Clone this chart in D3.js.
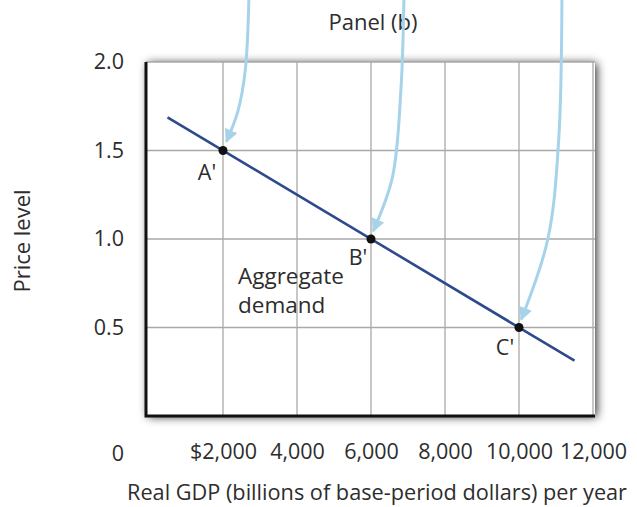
<!DOCTYPE html>
<html>
<head>
<meta charset="utf-8">
<script src="https://cdn.jsdelivr.net/npm/d3@7"></script>
<style>
  body { margin: 0; background: #fff; }
  text { font-family: "Open Sans", "Noto Sans", sans-serif; fill: #2d2d2d; }
</style>
</head>
<body>
<div id="chart"></div>
<script>
// data
var xTicks = [2000, 4000, 6000, 8000, 10000, 12000];
var xTickLabels = ["$2,000", "4,000", "6,000", "8,000", "10,000", "12,000"];
var yTicks = [0.5, 1.0, 1.5, 2.0];
var yTickLabels = ["0.5", "1.0", "1.5", "2.0"];
var adLine = [[500, 1.6875], [11500, 0.3125]];
var pointNames = ["A'", "B'", "C'"];
var pointX = [2000, 6000, 10000];
var pointY = [1.5, 1.0, 0.5];
// arrows coming down from panel (a), in data units
var arrows = [
  [[2700, 2.36], [2600, 1.95], [2400, 1.72], [2090, 1.55]],
  [[6890, 2.36], [6810, 1.85], [6580, 1.35], [6060, 1.045]],
  [[11160, 2.36], [11070, 1.55], [10780, 1.0], [10060, 0.545]]
];

var w = 637, h = 507;
var x0 = 149, x1 = 593, y0 = 416, y1 = 62;
var fs = "21.5px";

var svg = d3.select("#chart").append("svg")
  .attr("width", w).attr("height", h);

var defs = svg.append("defs");
var f = defs.append("filter").attr("id", "shadow")
  .attr("x", "-10%").attr("y", "-10%").attr("width", "120%").attr("height", "120%");
f.append("feDropShadow").attr("dx", 2).attr("dy", 1)
  .attr("stdDeviation", 5).attr("flood-color", "#000").attr("flood-opacity", 0.8);

defs.append("marker").attr("id", "head")
  .attr("viewBox", "0 0 10 10").attr("refX", 9).attr("refY", 5)
  .attr("markerWidth", 4.5).attr("markerHeight", 4.5)
  .attr("markerUnits", "strokeWidth").attr("orient", "auto")
  .append("path").attr("d", "M0,0 L10,5 L0,10 Z").attr("fill", "#a7d3ea");

var xScale = d3.scaleLinear().domain([0, 12000]).range([x0, x1]);
var yScale = d3.scaleLinear().domain([0, 2]).range([y0, y1]);

// panel background
svg.append("rect")
  .attr("x", x0 - 3).attr("y", y1).attr("width", x1 - x0 + 5).attr("height", y0 - y1)
  .attr("fill", "#fff").attr("filter", "url(#shadow)");

// grid
var grid = svg.append("g");
grid.selectAll(".gx").data(xTicks).enter().append("line")
  .attr("x1", d => xScale(d)).attr("x2", d => xScale(d))
  .attr("y1", y0).attr("y2", y1)
  .attr("stroke", "#a9a9a9").attr("stroke-width", 1.3);
grid.selectAll(".gy").data(yTicks).enter().append("line")
  .attr("x1", x0 - 3).attr("x2", x1 + 2)
  .attr("y1", d => yScale(d)).attr("y2", d => yScale(d))
  .attr("stroke", "#a9a9a9").attr("stroke-width", 1.3);

// axes (black L)
svg.append("path")
  .attr("d", "M" + (x0 - 3) + "," + y1 + "V" + y0 + "H" + (x1 + 2))
  .attr("fill", "none").attr("stroke", "#111").attr("stroke-width", 3);

// tick labels
var xAxis = d3.axisBottom(xScale).tickValues(xTicks).tickSize(0)
  .tickFormat((d, i) => xTickLabels[i]);
var xg = svg.append("g").attr("transform", "translate(0," + y0 + ")").call(xAxis);
xg.select(".domain").remove();
xg.selectAll("text").attr("y", 36).attr("dy", "0.32em")
  .style("font-size", fs).attr("fill", "#2d2d2d");

var yAxis = d3.axisLeft(yScale).tickValues(yTicks).tickSize(0)
  .tickFormat((d, i) => yTickLabels[i]);
var yg = svg.append("g").attr("transform", "translate(" + x0 + ",0)").call(yAxis);
yg.select(".domain").remove();
yg.selectAll("text").attr("x", -25)
  .style("font-size", fs).attr("fill", "#2d2d2d");

svg.append("text").attr("x", 118).attr("y", 453).attr("dy", "0.35em")
  .attr("text-anchor", "middle").style("font-size", fs).text("0");

// axis titles
svg.append("text").attr("x", 377).attr("y", 493).attr("dy", "0.35em")
  .attr("text-anchor", "middle").style("font-size", "21px")
  .attr("textLength", 500).attr("lengthAdjust", "spacingAndGlyphs")
  .text("Real GDP (billions of base-period dollars) per year");
svg.append("text").attr("transform", "translate(22,241) rotate(-90)")
  .attr("dy", "0.35em").attr("text-anchor", "middle").style("font-size", "22px")
  .text("Price level");
svg.append("text").attr("x", 373).attr("y", 22).attr("dy", "0.35em")
  .attr("text-anchor", "middle").style("font-size", "22px").text("Panel (b)");

// arrows
var arrowLine = d3.line().x(d => xScale(d[0])).y(d => yScale(d[1])).curve(d3.curveCatmullRom);
svg.selectAll(".arrow").data(arrows).enter().append("path")
  .attr("d", arrowLine)
  .attr("fill", "none").attr("stroke", "#a7d3ea").attr("stroke-width", 3)
  .attr("marker-end", "url(#head)");

// aggregate demand line
var line = d3.line().x(d => xScale(d[0])).y(d => yScale(d[1]));
svg.append("path").attr("d", line(adLine))
  .attr("fill", "none").attr("stroke", "#2e4a8c").attr("stroke-width", 2.6);

// points
svg.selectAll(".pt").data(pointX).enter().append("circle")
  .attr("cx", d => xScale(d)).attr("cy", (d, i) => yScale(pointY[i]))
  .attr("r", 4.5).attr("fill", "#111");

var labelDx = [-16, -13, -14];
var labelDy = [22, 18, 20];
svg.selectAll(".pl").data(pointX).enter().append("text")
  .attr("x", (d, i) => xScale(d) + labelDx[i])
  .attr("y", (d, i) => yScale(pointY[i]) + labelDy[i])
  .attr("dy", "0.35em").attr("text-anchor", "middle")
  .style("font-size", fs).text((d, i) => pointNames[i]);

svg.append("text").attr("x", 238).attr("y", 276).attr("dy", "0.35em")
  .style("font-size", "22.5px").text("Aggregate");
svg.append("text").attr("x", 238).attr("y", 305).attr("dy", "0.35em")
  .style("font-size", "22.5px").text("demand");
</script>
</body>
</html>
